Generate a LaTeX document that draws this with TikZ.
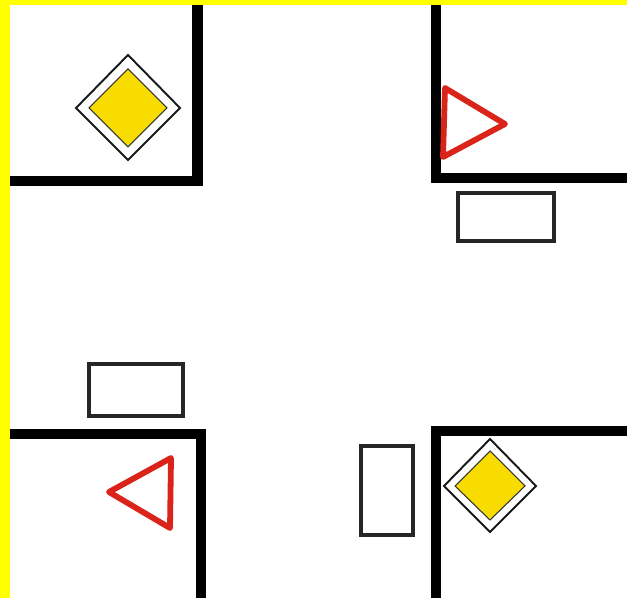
\documentclass[tikz,border=0pt]{standalone}
\usepackage{tikz}
\definecolor{signyellow}{RGB}{248,220,0}
\definecolor{signred}{RGB}{218,36,26}
\definecolor{framey}{RGB}{255,255,0}
\tikzstyle{wall} = [draw,line width=5.9pt,miter limit=10]
\tikzstyle{car} = [draw=black!85,line width=2.1pt]
\tikzstyle{yield} = [draw=signred,line width=3.3pt,line join=round]
\tikzstyle{prio} = [draw=black!90,line width=1.1pt,fill=white]
\tikzstyle{prioin} = [draw=black!80,line width=0.6pt,fill=signyellow]

\begin{document}
\begin{tikzpicture}[scale=1]
\useasboundingbox (0,0) rectangle (12.54,11.96);
\fill[framey] (0,0) rectangle (0.2,11.96);
\fill[framey] (0,11.86) rectangle (12.54,11.96);

% walls
\draw[wall] (0.2,8.34) -- (3.95,8.34) -- (3.95,11.86);
\draw[wall] (8.72,11.86) -- (8.72,8.40) -- (12.54,8.40);
\draw[wall] (0.2,3.28) -- (4.02,3.28) -- (4.02,0);
\draw[wall] (8.72,0) -- (8.72,3.34) -- (12.54,3.34);

% cars
\draw[car] (9.16,8.1) rectangle (11.08,7.14);
\draw[car] (1.78,4.68) rectangle (3.66,3.64);
\draw[car] (7.22,3.04) rectangle (8.26,1.26);

% signs
\draw[prio] (2.56,10.86) -- (3.6,9.8) -- (2.56,8.76) -- (1.52,9.8) -- cycle;
\draw[prioin] (2.56,10.58) -- (3.34,9.8) -- (2.56,9.02) -- (1.78,9.8) -- cycle;
\draw[prio] (9.8,3.18) -- (10.72,2.24) -- (9.8,1.32) -- (8.88,2.24) -- cycle;
\draw[prioin] (9.8,2.94) -- (10.5,2.24) -- (9.8,1.56) -- (9.1,2.24) -- cycle;
\draw[yield] (8.9,10.2) -- (10.1,9.48) -- (8.86,8.82) -- cycle;
\draw[yield] (2.18,2.12) -- (3.42,2.8) -- (3.4,1.4) -- cycle;

\end{tikzpicture}
\end{document}
